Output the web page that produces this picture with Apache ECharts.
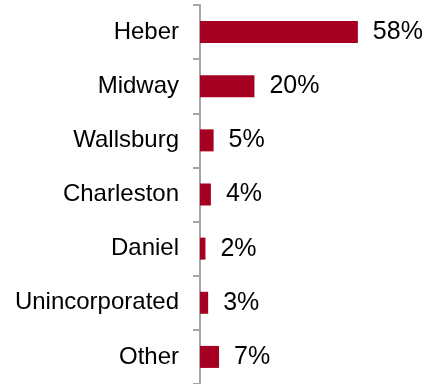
<!DOCTYPE html>
<html>
<head>
<meta charset="utf-8">
<style>
  html, body { margin: 0; padding: 0; background: #fff; }
  #chart { width: 430px; height: 384px; }
</style>
<script src="https://cdn.jsdelivr.net/npm/echarts@6/dist/echarts.min.js"></script>
</head>
<body>
<div id="chart"></div>
<script>
// Share of residents by place
const categories = ['Heber', 'Midway', 'Wallsburg', 'Charleston', 'Daniel', 'Unincorporated', 'Other'];
const shares = [58, 20, 5, 4, 2, 3, 7];

const chart = echarts.init(document.getElementById('chart'));
chart.setOption({
  animation: false,
  grid: { left: 200, right: 0, top: 5, bottom: -2.5, containLabel: false },
  xAxis: {
    type: 'value',
    min: 0,
    max: 84.5,
    show: false
  },
  yAxis: {
    type: 'category',
    inverse: true,
    data: categories,
    axisLine: { show: true, lineStyle: { color: '#a6a6a6', width: 2 } },
    axisTick: { show: true, length: 7, lineStyle: { color: '#a6a6a6', width: 2 } },
    axisLabel: {
      margin: 21,
      color: '#000',
      fontFamily: 'Liberation Sans, Arial, sans-serif',
      fontSize: 24
    },
    splitLine: { show: false }
  },
  series: [{
    type: 'bar',
    data: shares,
    barWidth: 22,
    itemStyle: { color: '#a50021' },
    label: {
      show: true,
      position: 'right',
      distance: 15,
      formatter: '{c}%',
      color: '#000',
      fontFamily: 'Liberation Sans, Arial, sans-serif',
      fontSize: 25
    }
  }]
});
</script>
</body>
</html>
